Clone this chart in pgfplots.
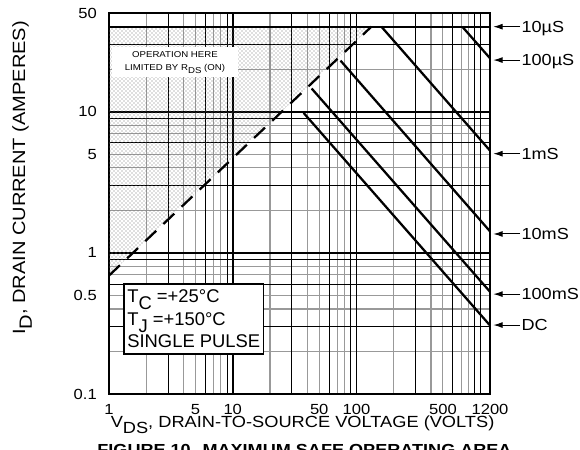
\documentclass[border=0pt]{standalone}
\usepackage{fontspec}
\setmainfont{Liberation Sans}[FakeStretch=1.13]
\newfontfamily\plainfont{Liberation Sans}
\usepackage{graphicx}
\usepackage{pgfplots}
\pgfplotsset{compat=1.18}
\usetikzlibrary{patterns,arrows.meta}
\newcommand\dn[1]{\raisebox{-0.38em}{#1}}
\newcommand\fs[1]{\fontsize{#1}{#1}\selectfont}
\begin{document}
\begin{tikzpicture}
\begin{axis}[
  at={(0,0)}, anchor=south west,
  scale only axis, width=285.75pt, height=285.75pt,
  xmode=log, ymode=log,
  xmin=1, xmax=1200, ymin=0.1, ymax=50,
  clip=false,
  axis line style={line width=2pt},
  xtick={1,5,10,50,100,500,1200},
  xticklabels={1,5,10,50,100,500,1200},
  ytick={0.1,0.5,1,5,10,50},
  yticklabels={0.1,0.5,1,5,10,50},
  minor xtick={2,4,7,8,20,40,70,80,200,400,700,800},
  minor ytick={0.2,0.4,0.7,0.8,2,4,7,8,20},
  extra x ticks={3,6,9,30,60,90,300,600,900,1000},
  extra x tick labels={},
  extra y ticks={0.3,0.6,0.9,3,6,9,30},
  extra y tick labels={},
  extra tick style={grid=major, major grid style={black, line width=0.75pt}},
  grid=both,
  major grid style={black!40, line width=0.8pt},
  minor grid style={black!40, line width=0.8pt},
  major tick length=0pt, minor tick length=0pt,
  xticklabel style={font=\fs{11}, inner sep=0pt, anchor=north, yshift=-7.5pt},
  yticklabel style={font=\fs{11}, inner sep=0pt, anchor=east, xshift=-9pt},
  xlabel={V\dn{DS}, DRAIN-TO-SOURCE VOLTAGE (VOLTS)},
  xlabel style={font=\fs{12.1}, at={(axis description cs:0.508,0)}, anchor=north, inner sep=0pt, yshift=-16.25pt},
  ylabel={I\dn{D}, DRAIN CURRENT (AMPERES)},
  ylabel style={font=\fs{13.3}, at={(axis description cs:-0.228,0.567)}, anchor=center, inner sep=0pt},
  soa/.style={black, line width=1.7pt, mark=none},
]
% decade grid lines
\draw[line width=1.4pt] (axis cs:10,0.1) -- (axis cs:10,50);
\draw[line width=1.4pt] (axis cs:100,0.1) -- (axis cs:100,50);
\draw[line width=1.4pt] (axis cs:1,1) -- (axis cs:1200,1);
\draw[line width=1.4pt] (axis cs:1,10) -- (axis cs:1200,10);
% shaded region limited by RDS(on)
\addplot[draw=none, pattern=crosshatch dots, pattern color=black!55] coordinates {(1,0.69) (132,40) (1,40)} -- cycle;
\node[fill=white, inner sep=0pt, minimum width=94pt, minimum height=22.5pt, align=center, font=\fontsize{6.4}{9.75}\selectfont] at (axis cs:3.41,22.3) {OPERATION HERE\\LIMITED BY R\dn{DS} (ON)};
% SOA curves
\addplot[soa] coordinates {(1,40) (1200,40)};
\addplot[soa, dash pattern=on 11.25pt off 7.5pt] coordinates {(1,0.69) (132,40)};
\addplot[soa] coordinates {(716,40) (1200,23.9)};
\addplot[soa] coordinates {(159,40) (1200,5.3)};
\addplot[soa] coordinates {(74.3,23) (1200,1.42)};
\addplot[soa] coordinates {(43.4,14.6) (1200,0.53)};
\addplot[soa] coordinates {(37.4,9.8) (1200,0.306)};
% conditions box
\node[draw, line width=1.3pt, fill=white, anchor=north west, inner xsep=2.5pt, inner ysep=0pt, minimum height=52.5pt, align=left, font=\plainfont\fontsize{13.8}{16.9}\selectfont] at (axis cs:1.30,0.61) {T\dn{C} =+25°C\\T\dn{J} =+150°C\\SINGLE PULSE};
% right-hand labels
\draw[line width=0.75pt, -{Latex[length=7pt,width=4.5pt]}] ([xshift=22.5pt]axis cs:1200,40) -- ([xshift=2.5pt]axis cs:1200,40);
\node[anchor=west, inner sep=0pt, text depth=0pt, font=\fs{12}] at ([xshift=23.5pt]axis cs:1200,40) {10µS};
\draw[line width=0.75pt, -{Latex[length=7pt,width=4.5pt]}] ([xshift=22.5pt]axis cs:1200,23.2) -- ([xshift=2.5pt]axis cs:1200,23.2);
\node[anchor=west, inner sep=0pt, text depth=0pt, font=\fs{12}] at ([xshift=23.5pt]axis cs:1200,23.2) {100µS};
\draw[line width=0.75pt, -{Latex[length=7pt,width=4.5pt]}] ([xshift=22.5pt]axis cs:1200,5.04) -- ([xshift=2.5pt]axis cs:1200,5.04);
\node[anchor=west, inner sep=0pt, text depth=0pt, font=\fs{12}] at ([xshift=23.5pt]axis cs:1200,5.04) {1mS};
\draw[line width=0.75pt, -{Latex[length=7pt,width=4.5pt]}] ([xshift=22.5pt]axis cs:1200,1.36) -- ([xshift=2.5pt]axis cs:1200,1.36);
\node[anchor=west, inner sep=0pt, text depth=0pt, font=\fs{12}] at ([xshift=23.5pt]axis cs:1200,1.36) {10mS};
\draw[line width=0.75pt, -{Latex[length=7pt,width=4.5pt]}] ([xshift=22.5pt]axis cs:1200,0.51) -- ([xshift=2.5pt]axis cs:1200,0.51);
\node[anchor=west, inner sep=0pt, text depth=0pt, font=\fs{12}] at ([xshift=23.5pt]axis cs:1200,0.51) {100mS};
\draw[line width=0.75pt, -{Latex[length=7pt,width=4.5pt]}] ([xshift=22.5pt]axis cs:1200,0.308) -- ([xshift=2.5pt]axis cs:1200,0.308);
\node[anchor=west, inner sep=0pt, text depth=0pt, font=\fs{12}] at ([xshift=23.5pt]axis cs:1200,0.308) {DC};
\end{axis}
\node[anchor=north, inner sep=0pt, font=\bfseries\fs{12}] at (146.6pt,-37.5pt) {FIGURE 10. MAXIMUM SAFE OPERATING AREA};
\pgfresetboundingbox
\useasboundingbox (-81.75pt,-41.25pt) rectangle (353.25pt,295.5pt);
\end{tikzpicture}
\end{document}
